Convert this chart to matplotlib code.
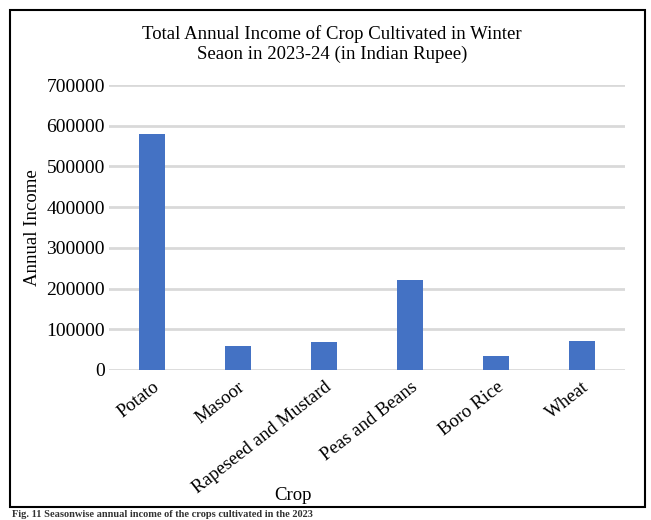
import matplotlib.pyplot as plt
from matplotlib.patches import Rectangle

# 겨울 작물 연간 소득
crops = ['Potato', 'Masoor', 'Rapeseed and Mustard', 'Peas and Beans', 'Boro Rice', 'Wheat']
income = [579000, 60000, 70000, 220000, 35000, 71000]
yticks = [0, 100000, 200000, 300000, 400000, 500000, 600000, 700000]

plt.rcParams['font.family'] = ['Liberation Serif', 'DejaVu Serif']

fig = plt.figure(figsize=(6.51, 5.2), dpi=100)
ax = fig.add_axes([109 / 651, 1 - 370 / 520, (625 - 109) / 651, (370 - 85) / 520])

x = range(len(crops))
ax.bar(x, income, width=0.3, color='#4472C4', zorder=3)

ax.set_xlim(-0.5, len(crops) - 0.5)
ax.set_ylim(0, 700000)
ax.set_yticks(yticks)
ax.set_yticklabels([str(v) for v in yticks], fontsize=14)
ax.set_xticks(list(x))
ax.set_xticklabels(crops, fontsize=13.5, rotation=38, ha='right', va='top',
                   rotation_mode='anchor')
ax.tick_params(axis='both', length=0)
ax.tick_params(axis='x', pad=6)
ax.tick_params(axis='y', pad=3)

ax.grid(axis='y', color='#d9d9d9', linewidth=2, zorder=0)
for s in ax.spines.values():
    s.set_visible(False)

ax.set_ylabel('Annual Income', fontsize=13.5)
ax.yaxis.set_label_coords(-0.132, 0.5)

# 제목 / x축 라벨
fig.text(332 / 651, 1 - 44 / 520,
         'Total Annual Income of Crop Cultivated in Winter\nSeaon in 2023-24 (in Indian Rupee)',
         ha='center', va='center', fontsize=13.5, linespacing=1.2)
fig.text(293 / 651, 1 - 495 / 520, 'Crop', ha='center', va='center', fontsize=13.5)

# 바깥 테두리
fig.add_artist(Rectangle((10 / 651, 1 - 507 / 520), 635 / 651, 497 / 520,
                         transform=fig.transFigure, fill=False,
                         edgecolor='black', linewidth=1.5))

# 캡션 (원본에서는 아래가 잘려 있음)
fig.text(12 / 651, 1 - 519 / 520,
         'Fig. 11 Seasonwise annual income of the crops cultivated in the 2023',
         ha='left', va='bottom', fontsize=7.5, fontweight='bold', color='#333333')

fig.savefig('out.png', dpi=100)
